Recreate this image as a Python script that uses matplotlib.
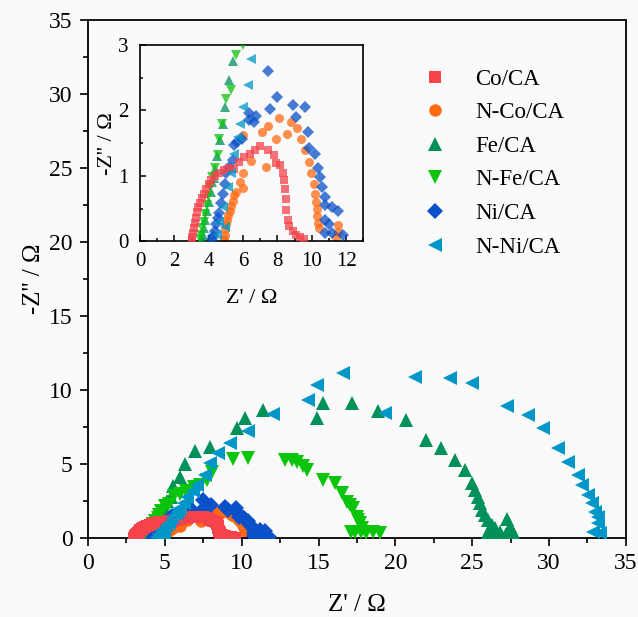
import matplotlib
matplotlib.use("Agg")
import matplotlib.pyplot as plt
from matplotlib.ticker import MultipleLocator

plt.rcParams['font.family'] = ['Liberation Serif', 'DejaVu Serif']

# Nyquist data, Z' (x) and -Z'' (y) in ohm
co_x = [3.00, 3.04, 3.08, 3.13, 3.18, 3.25, 3.32, 3.40, 3.50, 3.60, 3.72, 3.85, 4.00, 4.15, 4.35,
        4.60, 4.90, 5.20, 5.49, 5.78, 6.07, 6.42, 6.71, 6.99, 7.44, 7.80, 7.94, 8.15, 8.34, 8.40,
        8.44, 8.48, 8.52, 8.60, 8.70, 8.88, 9.06, 9.30, 9.55]
co_y = [0.02, 0.07, 0.13, 0.20, 0.28, 0.36, 0.44, 0.52, 0.59, 0.66, 0.73, 0.80, 0.87, 0.94, 1.00,
        1.05, 1.09, 1.12, 1.10, 1.21, 1.29, 1.34, 1.40, 1.45, 1.39, 1.32, 1.19, 1.16, 1.05, 0.93,
        0.80, 0.65, 0.48, 0.33, 0.23, 0.16, 0.10, 0.06, 0.03]

nco_x = [4.88, 4.92, 4.97, 5.02, 5.08, 5.15, 5.22, 5.30, 5.40, 5.49, 5.59, 5.97, 5.82, 5.97, 6.46,
         5.97, 7.32, 7.09, 7.47, 7.90, 8.07, 8.54, 8.77, 9.12, 9.38, 9.60, 9.83, 9.98, 10.10, 10.17,
         10.23, 10.28, 10.30, 10.34, 10.40, 11.52, 11.50, 11.40]
nco_y = [0.03, 0.10, 0.18, 0.26, 0.33, 0.40, 0.47, 0.54, 0.62, 0.70, 0.76, 0.81, 0.91, 1.04, 1.23,
         1.62, 1.13, 1.67, 1.76, 1.56, 1.88, 1.64, 1.83, 1.73, 1.57, 1.39, 1.21, 1.05, 0.87, 0.72,
         0.60, 0.50, 0.38, 0.28, 0.20, 0.25, 0.14, 0.07]

fe_x = [3.60, 3.65, 3.72, 3.80, 3.90, 4.00, 4.12, 4.21, 4.31, 4.39, 4.51, 4.67, 4.83, 4.95, 5.16,
        5.40, 5.55, 5.99, 6.31, 6.96, 7.94, 9.67, 10.21, 11.41, 14.88, 15.27, 17.20, 18.90, 20.70,
        21.97, 23.00, 23.90, 24.53, 24.96, 25.18, 25.35, 25.50, 25.62, 25.83, 26.05, 26.27, 26.48,
        26.05, 26.80, 27.24, 27.46, 27.67, 26.40, 27.20]
fe_y = [0.03, 0.10, 0.20, 0.32, 0.46, 0.60, 0.76, 0.90, 0.97, 1.10, 1.31, 1.55, 1.80, 2.05, 2.47,
        2.76, 3.51, 4.14, 5.00, 5.90, 6.13, 7.41, 8.09, 8.65, 8.09, 9.10, 9.10, 8.60, 7.97,
        6.60, 6.10, 5.26, 4.59, 3.74, 3.24, 2.80, 2.34, 1.89, 1.55, 1.22, 0.88, 0.65,
        0.43, 0.43, 1.26, 0.76, 0.43, 0.30, 0.30]

nfe_x = [3.50, 3.55, 3.62, 3.70, 3.78, 3.88, 3.98, 4.10, 4.21, 4.35, 4.53, 4.62, 4.76, 5.01, 5.30,
         5.59, 6.00, 6.40, 6.90, 7.30, 7.72, 8.05, 9.45, 10.43, 12.82, 13.25, 13.58, 14.00, 14.23,
         15.31, 16.07, 16.51, 16.83, 17.05, 17.26, 17.48, 17.60, 17.70, 17.80, 17.10, 17.40, 17.75,
         18.10, 18.56, 19.00]
nfe_y = [0.03, 0.10, 0.20, 0.30, 0.42, 0.55, 0.69, 0.83, 0.98, 1.12, 1.32, 1.56, 1.80, 2.17, 2.32,
         2.85, 3.00, 3.20, 3.45, 3.60, 3.92, 4.48, 5.32, 5.38, 5.27, 5.27, 5.16, 4.85, 4.59,
         3.92, 3.69, 3.02, 2.45, 2.20, 2.00, 1.44, 1.20, 0.99, 0.65, 0.40, 0.38, 0.40,
         0.36, 0.43, 0.32]

ni_x = [4.20, 4.26, 4.34, 4.43, 4.52, 4.62, 4.72, 4.82, 4.92, 5.01, 5.20, 5.39, 5.45, 5.62, 5.94,
        6.32, 6.65, 6.36, 6.78, 7.57, 7.46, 7.99, 8.92, 9.09, 9.63, 9.77, 9.81, 10.17, 10.38, 10.50,
        10.60, 10.75, 10.79, 11.17, 11.52, 10.79, 10.98, 10.79, 11.17, 11.80]
ni_y = [0.03, 0.08, 0.15, 0.27, 0.36, 0.43, 0.58, 0.73, 0.88, 1.04, 1.14, 1.24, 1.47, 1.52, 1.57,
        1.85, 1.83, 1.96, 1.91, 2.02, 2.60, 2.21, 2.08, 1.90, 2.06, 1.67, 1.43, 1.33, 1.12, 0.98,
        0.83, 0.68, 0.55, 0.53, 0.46, 0.33, 0.27, 0.12, 0.12, 0.09]

nni_x = [4.50, 4.60, 4.82, 4.95, 5.10, 5.30, 5.49, 5.72, 5.84, 5.98, 6.26, 6.45, 6.80, 7.07, 7.61,
         7.94, 8.48, 9.24, 10.43, 12.06, 14.33, 14.88, 16.61, 19.32, 21.27, 23.55, 24.96, 27.24,
         28.65, 29.62, 30.60, 31.25, 31.90, 32.12, 32.55, 32.77, 32.99, 33.20, 33.20, 32.88, 33.31]
nni_y = [0.10, 0.30, 0.53, 0.22, 0.83, 1.04, 1.34, 1.59, 1.80, 2.06, 2.39, 2.78, 3.20, 3.58, 4.26,
         5.05, 5.72, 6.40, 7.23, 8.38, 9.32, 10.34, 11.17, 8.47, 10.86, 10.79, 10.45, 8.92,
         8.31, 7.41, 6.06, 5.16, 4.26, 3.58, 2.91, 2.34, 1.78, 1.44, 0.99, 0.43, 0.32]

labels = ["Co/CA", "N-Co/CA", "Fe/CA", "N-Fe/CA", "Ni/CA", "N-Ni/CA"]
xs = [co_x, nco_x, fe_x, nfe_x, ni_x, nni_x]
ys = [co_y, nco_y, fe_y, nfe_y, ni_y, nni_y]
colors = ["#F5424B", "#FF6A13", "#00915A", "#0CC40C", "#0A50C8", "#0096C8"]
markers = ["s", "o", "^", "v", "D", "<"]
big = [8, 9, 10, 10, 8, 10]
small = [5.5, 6.5, 7, 7, 6, 7]
order = [4, 0, 1, 2, 3, 5]   # z-order of the series

bg = "#FAFAFA"
fig = plt.figure(figsize=(6.38, 6.17), dpi=100, facecolor=bg)

ax = fig.add_axes([0.138, 0.128, 0.843, 0.840], facecolor=bg)
for i in range(6):
    ax.plot(xs[i], ys[i], ls="none", marker=markers[i], ms=big[i], mew=0,
            color=colors[i], label=labels[i], zorder=2 + order[i])
ax.set_xlim(0, 35); ax.set_ylim(0, 35)
ax.xaxis.set_major_locator(MultipleLocator(5)); ax.xaxis.set_minor_locator(MultipleLocator(2.5))
ax.yaxis.set_major_locator(MultipleLocator(5)); ax.yaxis.set_minor_locator(MultipleLocator(2.5))
ax.tick_params(which="major", direction="out", length=6, width=1.2, labelsize=17, pad=5)
ax.tick_params(which="minor", direction="out", length=3.5, width=1.2)
for s in ax.spines.values():
    s.set_linewidth(1.3)
ax.set_xlabel("Z' / Ω", fontsize=18, labelpad=14)
ax.set_ylabel("-Z'' / Ω", fontsize=18, labelpad=3)

leg = ax.legend(loc="upper left", bbox_to_anchor=(0.6646, 0.889), bbox_transform=fig.transFigure,
                frameon=False, fontsize=16.5, handlelength=1.0, handletextpad=1.25,
                labelspacing=0.55, borderpad=0, borderaxespad=0, numpoints=1)

''' inset: close-up of the high-frequency part '''
axin = fig.add_axes([0.2194, 0.609, 0.3501, 0.318], facecolor=bg)
for i in range(6):
    axin.plot(xs[i], ys[i], ls="none", marker=markers[i], ms=small[i], mew=0,
              color=colors[i], alpha=0.75, zorder=2 + order[i])
axin.set_xlim(0, 13); axin.set_ylim(0, 3)
axin.xaxis.set_major_locator(MultipleLocator(2)); axin.xaxis.set_minor_locator(MultipleLocator(1))
axin.yaxis.set_major_locator(MultipleLocator(1)); axin.yaxis.set_minor_locator(MultipleLocator(0.5))
axin.tick_params(which="major", direction="in", length=4, width=1.1, labelsize=15, pad=8)
axin.tick_params(which="minor", direction="in", length=2.5, width=1.1)
for s in axin.spines.values():
    s.set_linewidth(1.2)
axin.set_xlabel("Z' / Ω", fontsize=16, labelpad=13)
axin.set_ylabel("-Z'' / Ω", fontsize=16, labelpad=1)

fig.savefig("out.png", dpi=100, facecolor=bg)
